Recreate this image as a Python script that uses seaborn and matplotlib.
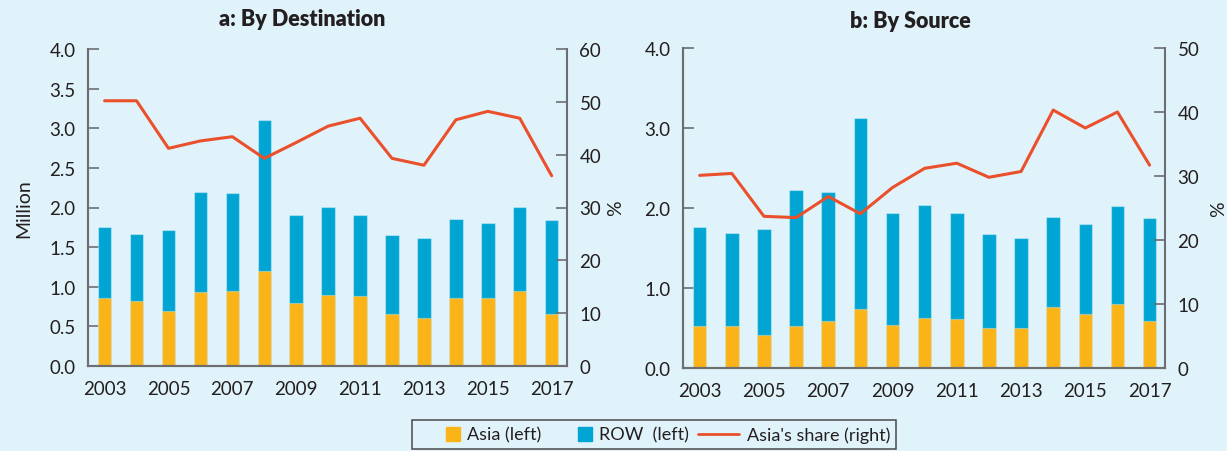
import numpy as np
import pandas as pd
import seaborn as sns
import matplotlib.pyplot as plt
import matplotlib.patches as mpatches
from matplotlib.lines import Line2D
from matplotlib.legend_handler import HandlerPatch

years = list(range(2003, 2018))

# panel a: by destination (million, and Asia's share in %)
dest_asia = [0.86, 0.82, 0.69, 0.93, 0.95, 1.20, 0.80, 0.90, 0.88, 0.65, 0.61, 0.86, 0.86, 0.95, 0.65]
dest_total = [1.75, 1.67, 1.71, 2.20, 2.18, 3.10, 1.90, 2.01, 1.90, 1.65, 1.61, 1.86, 1.80, 2.01, 1.84]
dest_share = [50.2, 50.2, 41.2, 42.6, 43.4, 39.3, 42.3, 45.4, 46.9, 39.3, 38.0, 46.6, 48.2, 46.9, 36.0]

# panel b: by source
src_asia = [0.52, 0.52, 0.41, 0.52, 0.59, 0.74, 0.54, 0.63, 0.61, 0.50, 0.50, 0.76, 0.68, 0.80, 0.59]
src_total = [1.76, 1.69, 1.74, 2.22, 2.20, 3.12, 1.94, 2.04, 1.94, 1.67, 1.62, 1.89, 1.80, 2.02, 1.87]
src_share = [30.1, 30.4, 23.7, 23.5, 26.8, 24.1, 28.2, 31.2, 32.0, 29.8, 30.7, 40.3, 37.5, 40.0, 31.7]

bg = "#e1f3fa"
asia_col = "#fbb418"
row_col = "#00a5d4"
line_col = "#e9502b"
spine_col = "#6d6e71"
text_col = "#231f20"

sns.set_theme(style="white")
plt.rcParams['font.family'] = ['Lato', 'DejaVu Sans']
plt.rcParams['text.color'] = text_col
plt.rcParams['axes.labelcolor'] = text_col
plt.rcParams['xtick.color'] = text_col
plt.rcParams['ytick.color'] = text_col

W, H = 1227, 452
fig = plt.figure(figsize=(W / 100, H / 100), dpi=100, facecolor=bg)
ax_a = fig.add_axes([88 / W, 1 - 367 / H, (567 - 88) / W, (367 - 50) / H])
ax_b = fig.add_axes([683 / W, 1 - 369 / H, (1165 - 683) / W, (369 - 49) / H])

TICK_FS = 13.5


def panel(ax, asia, total, share, lstep, rmax, left_label, rpad):
    df = pd.DataFrame({"year": years, "asia": asia, "total": total, "share": share})
    ax.set_facecolor(bg)
    sns.barplot(data=df, x="year", y="total", color=row_col, saturation=1, width=0.42,
                edgecolor=(1, 1, 1, 0.35), linewidth=0.9, ax=ax)
    sns.barplot(data=df, x="year", y="asia", color=asia_col, saturation=1, width=0.42,
                edgecolor=(1, 1, 1, 0.3), linewidth=0.9, ax=ax)
    ax2 = ax.twinx()
    sns.lineplot(x=np.arange(len(years)), y=df["share"], color=line_col, lw=2.2, ax=ax2)

    ax.set_xlim(-0.52, len(years) - 0.52)
    ax.set_xticks(np.arange(0, len(years), 2))
    ax.set_xticklabels([str(y) for y in years[::2]])
    ax.set_xticks(np.arange(0.5, len(years) - 1, 1), minor=True)
    ax.tick_params(axis="x", which="major", length=0, pad=10, labelsize=TICK_FS)
    ax.tick_params(axis="x", which="minor", length=8, width=1.2, direction="in", color=spine_col)
    ax.set_xlabel("")

    ax.set_ylim(0, 4)
    ax.set_yticks(np.arange(0, 4.01, lstep))
    ax.set_yticklabels([f"{v:.1f}" for v in np.arange(0, 4.01, lstep)])
    ax.tick_params(axis="y", length=8, width=1.2, direction="in", color=spine_col, pad=9,
                   labelsize=TICK_FS, left=True)
    ax.set_ylabel(left_label, fontsize=14, labelpad=12)

    ax2.set_ylim(0, rmax)
    ax2.set_yticks(np.arange(0, rmax + 1, 10))
    ax2.tick_params(axis="y", length=8, width=1.2, direction="in", color=spine_col, pad=9,
                    labelsize=TICK_FS)
    ax2.set_ylabel("%", fontsize=14, labelpad=rpad)

    for a in (ax, ax2):
        a.spines["top"].set_visible(False)
        for s in ("left", "right", "bottom"):
            a.spines[s].set_color(spine_col)
            a.spines[s].set_linewidth(1.5)
    ax.spines["right"].set_visible(False)


panel(ax_a, dest_asia, dest_total, dest_share, 0.5, 60, "Million", 4)
panel(ax_b, src_asia, src_total, src_share, 1.0, 50, "", 8)

fig.text(302 / W, 1 - 20 / H, "a: By Destination", ha="center", va="center",
         fontsize=15.5, fontweight="heavy")
fig.text(910 / W, 1 - 21 / H, "b: By Source", ha="center", va="center",
         fontsize=15.5, fontweight="heavy")


def square(legend, orig_handle, xdescent, ydescent, width, height, fontsize):
    s = 1.1 * height
    return mpatches.Rectangle((width - xdescent - s, -ydescent + (height - s) / 2), s, s)


handles = [mpatches.Patch(color=asia_col), mpatches.Patch(color=row_col),
           Line2D([], [], color=line_col, lw=2)]
labels = ["Asia (left)", "ROW  (left)", "Asia's share (right)"]
leg = fig.legend(handles, labels, loc="upper center", bbox_to_anchor=(654 / W, 1 - 421 / H),
                 ncol=3, fontsize=13, frameon=True, fancybox=False, facecolor=bg,
                 edgecolor=text_col, handlelength=2.3, handletextpad=0.4, columnspacing=0.5,
                 borderpad=0.35, borderaxespad=0,
                 handler_map={mpatches.Patch: HandlerPatch(patch_func=square)})
leg.get_frame().set_linewidth(1.1)

fig.savefig("out.png", dpi=100, facecolor=bg)
